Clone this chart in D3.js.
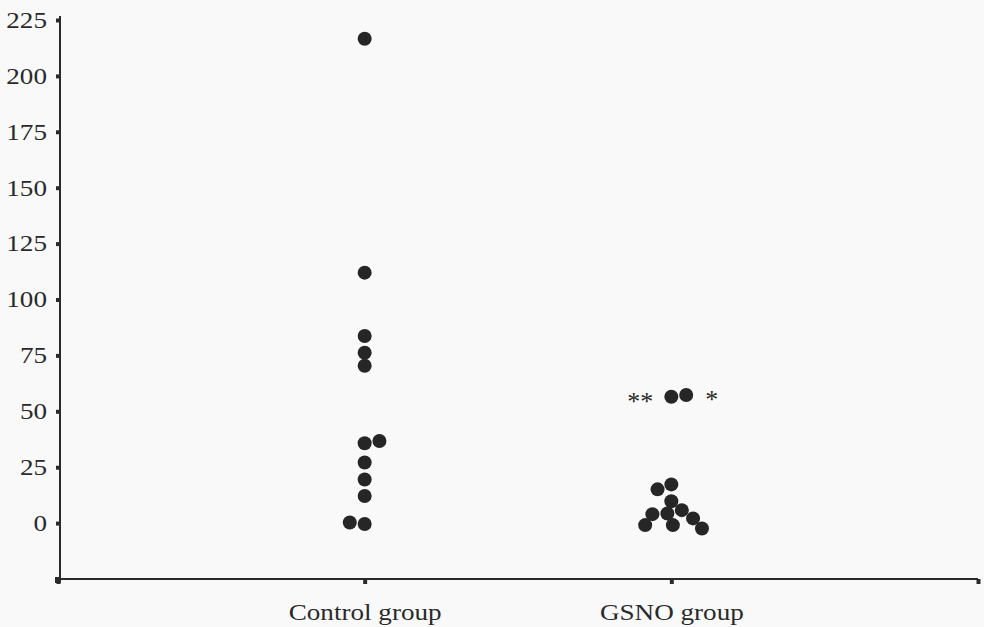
<!DOCTYPE html>
<html>
<head>
<meta charset="utf-8">
<script src="https://cdn.jsdelivr.net/npm/d3@7/dist/d3.min.js"></script>
<style>
  html, body { margin: 0; padding: 0; background: #f9f9f9; }
  svg { display: block; }
  text { font-family: "Liberation Serif", "Times New Roman", serif; fill: #2a2a2a; }
</style>
</head>
<body>
<svg id="chart" width="984" height="627"></svg>
<script>
// Groups along the x axis
const categories = ["Control group", "GSNO group"];

// Individual measurements per group
const controlValues = [216.6, 112.0, 83.7, 76.2, 70.4, 35.7, 36.7, 27.1, 19.5, 12.1, -0.4, 0.3];
const gsnoValues = [56.5, 57.3, 17.3, 15.1, 9.8, 5.8, 4.3, 4.0, 2.1, -0.9, -0.9, -2.4];

// Y axis tick values
const yTicks = [0, 25, 50, 75, 100, 125, 150, 175, 200, 225];

// Significance marks beside the two highest GSNO points
const gsnoMarks = ["**", "*"];

const svg = d3.select("#chart");
const R = 7;                 // dot radius
const SX = 1.18;             // horizontal stretch of the lettering

const x = d3.scaleLinear().domain([0, categories.length + 1]).range([58, 978]);
const y = d3.scaleLinear().domain([-25, 225]).range([579, 20]);

// Axes
const yAxis = d3.axisLeft(y).tickValues(yTicks).tickSize(4).tickPadding(9).tickFormat(d3.format("d"));
const gy = svg.append("g").attr("transform", `translate(${x(0) + 2},0)`).call(yAxis);
gy.select(".domain").remove();
gy.append("line").attr("x1", 0).attr("x2", 0).attr("y1", y(225) - 4).attr("y2", y(-25))
  .attr("stroke", "#2a2a2a").attr("stroke-width", 2);
gy.selectAll(".tick line").attr("stroke", "#2a2a2a").attr("stroke-width", 4);
gy.selectAll(".tick text")
  .attr("font-size", 23)
  .attr("transform", `scale(${SX},1)`)
  .attr("x", -13 / SX);

const xTickVals = d3.range(0, categories.length + 2);
const xAxis = d3.axisBottom(x).tickValues(xTickVals).tickSize(5).tickPadding(12)
  .tickFormat(i => categories[i - 1] || "");
const gx = svg.append("g").attr("transform", `translate(0,${y(-25)})`).call(xAxis);
gx.select(".domain").remove();
gx.append("line").attr("x1", x(0) - 1).attr("x2", x(categories.length + 1)).attr("y1", 0).attr("y2", 0)
  .attr("stroke", "#2a2a2a").attr("stroke-width", 2);
gx.selectAll(".tick line").attr("stroke", "#2a2a2a").attr("stroke-width", 4);
gx.selectAll(".tick text")
  .attr("font-size", 23)
  .attr("y", 0)
  .attr("dy", 0)
  .attr("transform", `translate(0,41) scale(${SX},1)`);
svg.append("rect").attr("x", x(0) - 3).attr("y", y(-25) - 2).attr("width", 6).attr("height", 6).attr("fill", "#2a2a2a");

// Spread points that would overlap side by side (elliptical clearance)
function dodge(values, cx) {
  const DX = 15, DY = 12.5;
  const placed = [];
  let side = 1;
  return values.map(v => {
    const py = y(v);
    const blocks = placed
      .filter(p => Math.abs(p.y - py) < DY)
      .map(p => {
        const w = DX * Math.sqrt(1 - Math.pow((p.y - py) / DY, 2));
        return [p.dx - w, p.dx + w];
      });
    const cands = [0].concat(...blocks);
    const free = cands.filter(c => blocks.every(b => c <= b[0] + 1e-6 || c >= b[1] - 1e-6));
    free.sort((a, b) => {
      const d = Math.abs(a) - Math.abs(b);
      if (Math.abs(d) > 0.5) return d;
      return (Math.sign(a) === side ? -1 : 0) - (Math.sign(b) === side ? -1 : 0);
    });
    const dx = free[0];
    if (dx !== 0) side = -side;
    const pt = { v, y: py, dx, x: cx + dx };
    placed.push(pt);
    return pt;
  });
}

const groups = [controlValues, gsnoValues].map((vals, i) => dodge(vals, x(i + 1)));

svg.append("g").selectAll("g").data(groups).join("g")
  .selectAll("circle").data(d => d).join("circle")
  .attr("cx", d => d.x)
  .attr("cy", d => d.y)
  .attr("r", R)
  .attr("fill", "#262626");

// Significance marks
const tops = groups[1].slice(0, 2).slice().sort((a, b) => a.x - b.x);
svg.append("text")
  .attr("x", tops[0].x - R - 11).attr("y", tops[0].y + 13)
  .attr("text-anchor", "end").attr("font-size", 26)
  .text(gsnoMarks[0]);
svg.append("text")
  .attr("x", tops[1].x + R + 12).attr("y", tops[1].y + 13)
  .attr("text-anchor", "start").attr("font-size", 26)
  .text(gsnoMarks[1]);
</script>
</body>
</html>
